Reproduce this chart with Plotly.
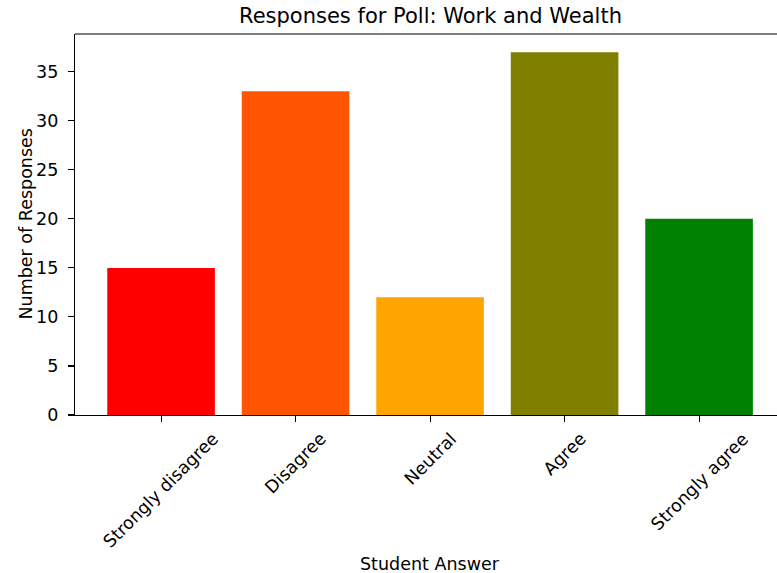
import plotly.graph_objects as go

categories = ["Strongly disagree", "Disagree", "Neutral", "Agree", "Strongly agree"]
responses = [15, 33, 12, 37, 20]
bar_colors = ["#FF0000", "#FF5500", "#FFA500", "#808000", "#008000"]
y_ticks = [0, 5, 10, 15, 20, 25, 30, 35]

W, H = 777, 573
L, T = 75, 34
PH = 415 - 34
B = H - T - PH
PW = W - L
UNIT = 134.5  # px per category slot
FONT = "DejaVu Sans"
FS = 17.5

fig = go.Figure()
fig.add_trace(go.Bar(x=categories, y=responses, marker=dict(color=bar_colors, line=dict(width=0)),
                     width=0.8, showlegend=False, hoverinfo="skip"))

# tick labels as rotated annotations (centered under tick, like matplotlib)
for c in categories:
    fig.add_annotation(x=c, xref="x", y=-11 / PH, yref="paper", text=c, textangle=-45,
                       showarrow=False, xanchor="center", yanchor="top",
                       font=dict(family=FONT, size=FS, color="black"))

# x title centred on the full (partly off-picture) axis
fig.add_annotation(x=2, xref="x", y=-(564 - 415) / PH, yref="paper", text="Student Answer",
                   showarrow=False, xanchor="center", yanchor="middle",
                   font=dict(family=FONT, size=FS, color="black"))

fig.add_annotation(x=(25 - L) / PW, xref="paper", y=0.5, yref="paper", text="Number of Responses",
                   textangle=-90, showarrow=False, xanchor="center", yanchor="middle",
                   font=dict(family=FONT, size=FS, color="black"))

# top spine only (right spine lies off-picture in the reference)
fig.add_shape(type="line", xref="paper", yref="paper", x0=0, x1=1, y0=1, y1=1,
              line=dict(color="black", width=1.1))

fig.update_layout(
    width=W, height=H,
    margin=dict(l=L, r=0, t=T, b=B, pad=0),
    paper_bgcolor="white", plot_bgcolor="white",
    hovermode=False,
    font=dict(family=FONT, size=FS, color="black"),
    title=dict(text="Responses for Poll: Work and Wealth", x=430.5 / W, xanchor="center",
               y=1 - 16 / H, yanchor="middle", yref="container",
               font=dict(family=FONT, size=21, color="black")),
    xaxis=dict(range=[-0.64, -0.64 + PW / UNIT], showgrid=False, zeroline=False,
               showline=True, linecolor="black", linewidth=1.1,
               ticks="outside", ticklen=6, tickcolor="black", tickwidth=1.1,
               showticklabels=False),
    yaxis=dict(range=[0, 38.85], tickvals=y_ticks, showgrid=False, zeroline=False,
               showline=True, linecolor="black", linewidth=1.1,
               ticks="outside", ticklen=6, tickcolor="black", tickwidth=1.1,
               ticklabelstandoff=6),
)

fig.write_html("out.html", config={"displayModeBar": False, "staticPlot": True},
               post_script="document.body.style.margin='0';")
